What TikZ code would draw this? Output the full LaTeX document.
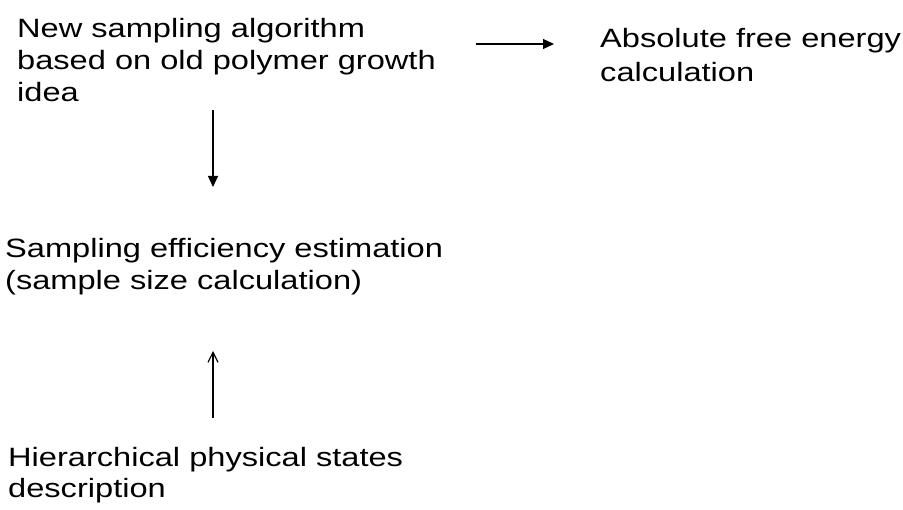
\documentclass[tikz,border=0pt]{standalone}
\usepackage{fontspec}
\setmainfont{Liberation Sans}[FakeStretch=1.23]
\usetikzlibrary{arrows.meta, positioning}

\begin{document}
\begin{tikzpicture}[
    x=1pt, y=-1pt,
    font=\fontsize{26.5}{32}\selectfont,
    label/.style={anchor=base west, inner sep=0pt, align=left},
    arrow/.style={-{Triangle[length=11pt, width=10pt]}, line width=1.2pt},
    openarrow/.style={-{Straight Barb[length=10pt, width=10pt, line width=1.2pt]}, line width=1.2pt}
]
\useasboundingbox (0,0) rectangle (903,510);

% Text blocks (placed by the baseline of their last line)
\node[label] (algo) at (17,102) {New sampling algorithm\\based on old polymer growth\\idea};
\node[label, font=\fontsize{26.5}{34}\selectfont] (energy) at (600,82) {Absolute free energy\\calculation};
\node[label] (effic) at (5,290) {Sampling efficiency estimation\\(sample size calculation)};
\node[label] (hier) at (8,498) {Hierarchical physical states\\description};

% Arrow ends
\coordinate (algoR) at (476,44);
\coordinate (energyL) at (554,44);
\coordinate (algoB) at (213,110);
\coordinate (efficT) at (213,187);
\coordinate (hierT) at (213,418);
\coordinate (efficB) at (213,351);

% Arrows
\draw[arrow] (algoR) -- (energyL);
\draw[arrow] (algoB) -- (efficT);
\draw[openarrow] (hierT) -- (efficB);
\end{tikzpicture}
\end{document}
